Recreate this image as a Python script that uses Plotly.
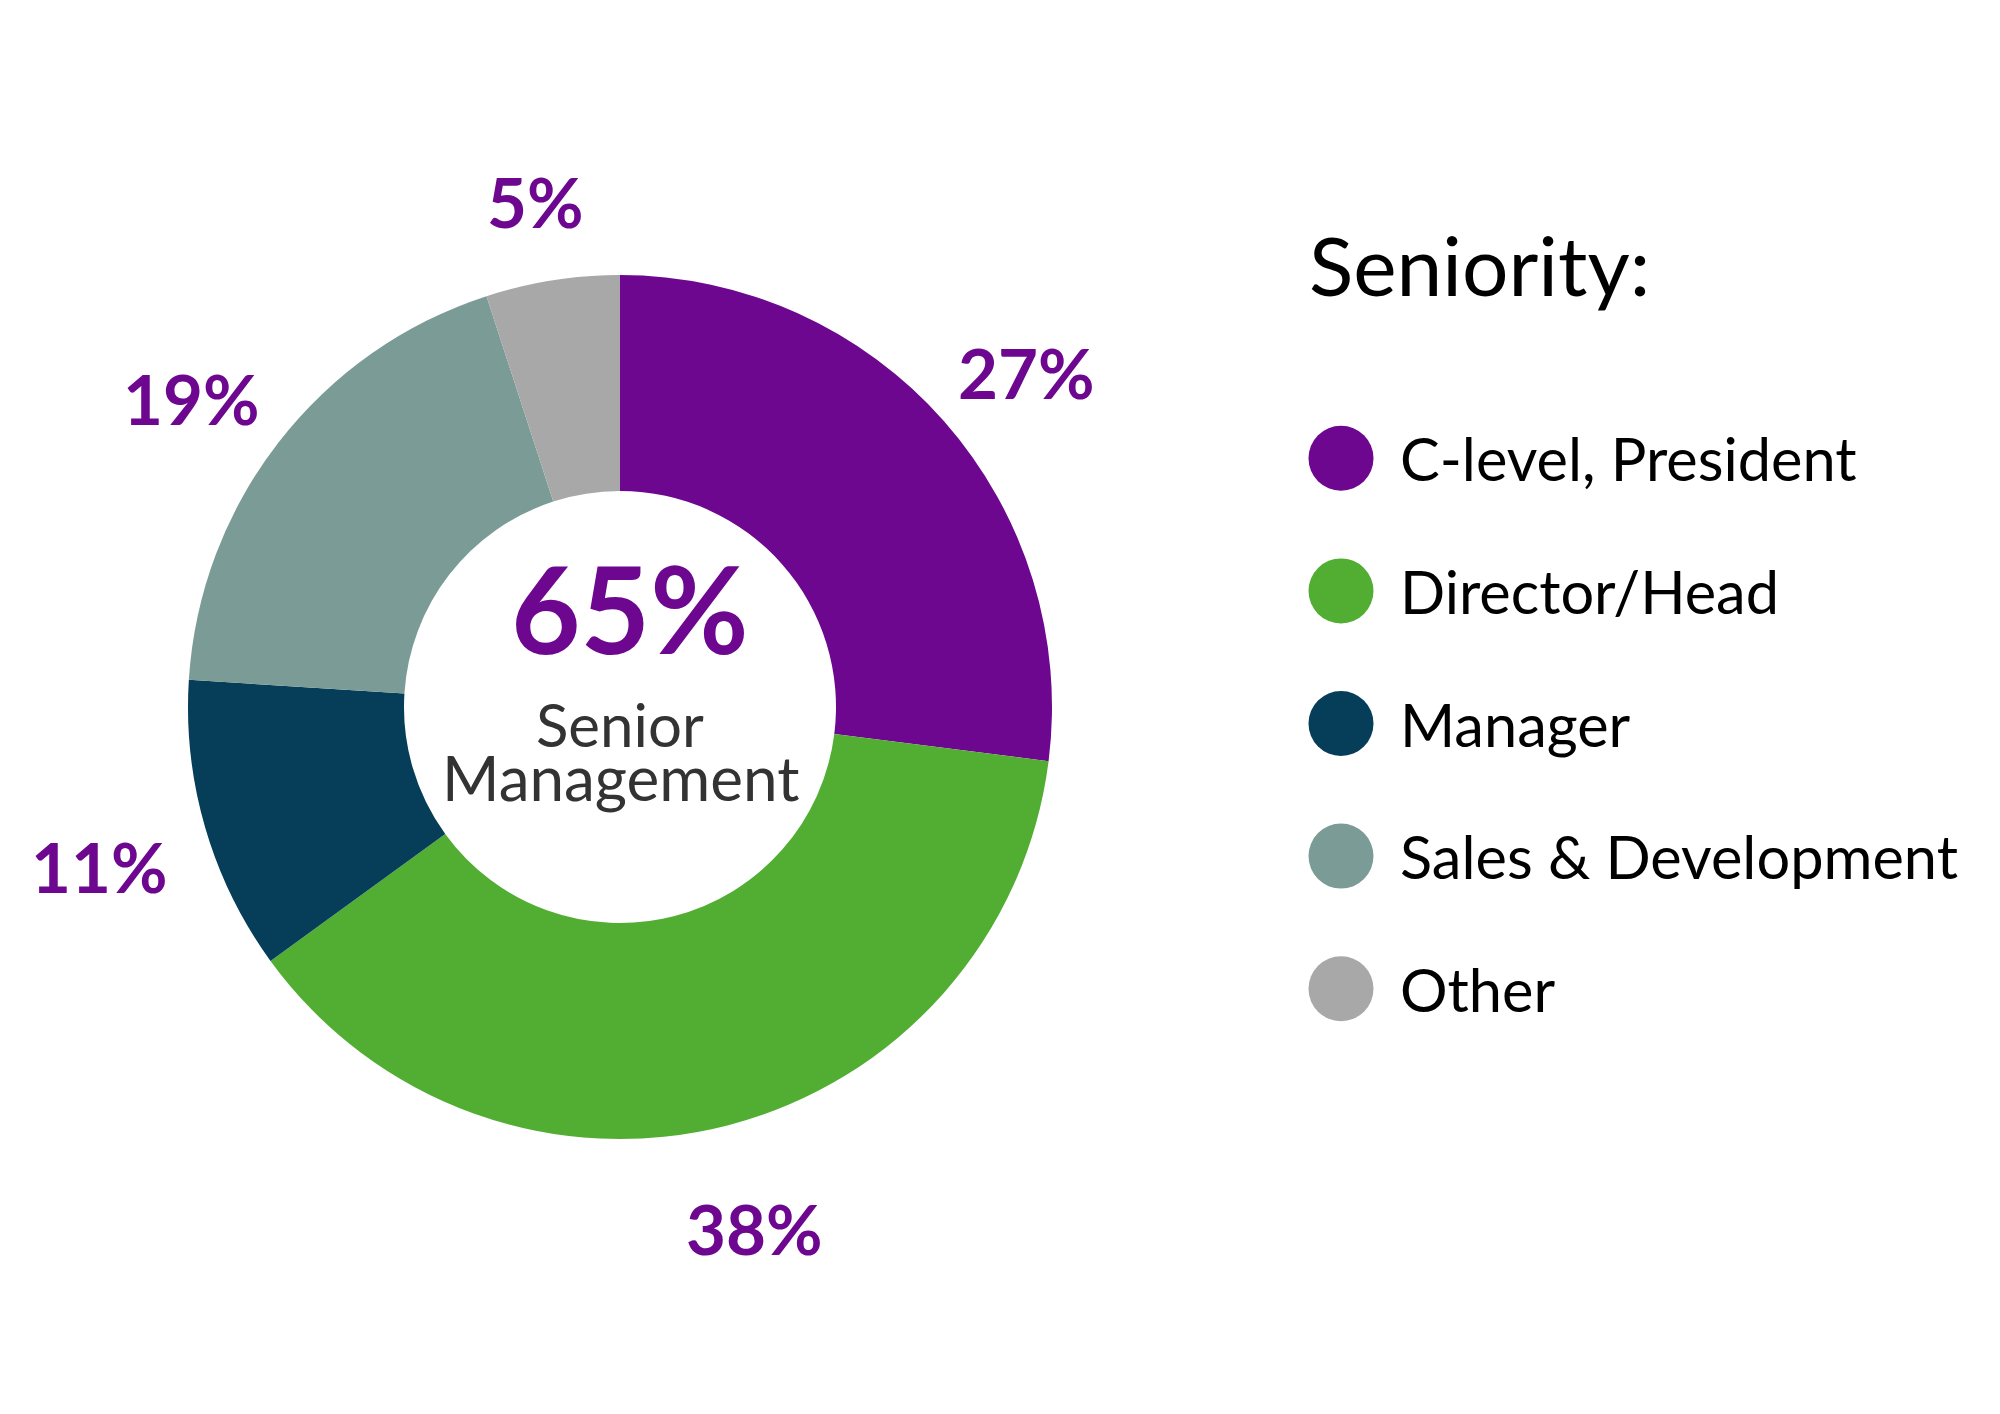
import math
import plotly.graph_objects as go

### Data ###
categories = ["C-level, President", "Director/Head", "Manager", "Sales & Development", "Other"]
shares = [27, 38, 11, 19, 5]
colors = ["#6D078F", "#52AE32", "#063D58", "#7B9C96", "#A8A8A8"]
center_value = "65%"
center_label = ["Senior", "Management"]
legend_title = "Seniority:"

### Layout constants ###
W, H = 2000, 1414
OFF = 8                        # page body margin the figure sits inside
CX, CY, R = 620 - OFF, 707 - OFF, 432   # donut centre / radius in pixels
LABEL_RX, LABEL_RY, LABEL_DY = 542, 525, 13   # where the % labels sit around the ring
LEG_X = 1312 - OFF             # left edge of the legend block
PURPLE = "#6D078F"
FONT = "Lato"


def px(x):
    return x / W


def py(y):
    return 1 - y / H


fig = go.Figure()

fig.add_trace(go.Pie(
    labels=categories,
    values=shares,
    marker=dict(colors=colors, line=dict(width=0)),
    hole=0.5,
    sort=False,
    direction="clockwise",
    rotation=0,
    textinfo="none",
    showlegend=False,
    domain=dict(x=[px(CX - R), px(CX + R)], y=[py(CY + R), py(CY - R)]),
))

# percentage labels around the ring, at the middle angle of each slice
total = sum(shares)
cum = 0
for v in shares:
    mid = (cum + v / 2) / total * 2 * math.pi
    cum += v
    fig.add_annotation(
        x=px(CX + LABEL_RX * math.sin(mid)),
        y=py(CY - LABEL_RY * math.cos(mid) + LABEL_DY),
        xref="paper", yref="paper",
        text=f"<b>{v}%</b>", showarrow=False,
        font=dict(family=FONT, size=69, color=PURPLE),
        xanchor="center", yanchor="middle",
    )

# centre text
fig.add_annotation(x=px(CX + 10), y=py(608 - OFF), xref="paper", yref="paper",
                   text=f"<b>{center_value}</b>", showarrow=False,
                   xanchor="center", yanchor="middle",
                   font=dict(family=FONT, size=120, color=PURPLE))
fig.add_annotation(x=px(CX), y=py(724 - OFF), xref="paper", yref="paper",
                   text=center_label[0], showarrow=False,
                   xanchor="center", yanchor="middle",
                   font=dict(family=FONT, size=60, color="#333333"))
fig.add_annotation(x=px(CX), y=py(777 - OFF), xref="paper", yref="paper",
                   text=center_label[1], showarrow=False,
                   xanchor="center", yanchor="middle",
                   font=dict(family=FONT, size=62, color="#333333"))

# legend drawn as a scatter on its own axes
fig.add_trace(go.Scatter(
    x=[29] * len(categories),
    y=categories,
    mode="markers",
    marker=dict(size=65, color=colors, line=dict(width=0)),
    cliponaxis=False,
    hoverinfo="skip",
    showlegend=False,
    xaxis="x2", yaxis="y2",
))
for cat in categories:
    fig.add_annotation(x=86, y=cat, xref="x2", yref="y2", text=cat,
                       showarrow=False, xanchor="left", yanchor="middle",
                       font=dict(family=FONT, size=59.5, color="#000000"))

fig.add_annotation(x=px(LEG_X - 5), y=py(264 - OFF), xref="paper", yref="paper",
                   text=legend_title, showarrow=False, xanchor="left", yanchor="middle",
                   font=dict(family=FONT, size=82, color="#000000"))

fig.update_layout(
    width=W, height=H,
    margin=dict(l=0, r=0, t=0, b=0),
    paper_bgcolor="white",
    plot_bgcolor="rgba(0,0,0,0)",
    font=dict(family=FONT),
    xaxis2=dict(domain=[px(LEG_X), 1.0], range=[0, W - LEG_X], visible=False,
                fixedrange=True, anchor="y2"),
    yaxis2=dict(domain=[py(1055 - OFF), py(392 - OFF)], type="category",
                categoryorder="array", categoryarray=categories,
                range=[len(categories) - 0.5, -0.5], visible=False, fixedrange=True,
                anchor="x2"),
)

fig.write_html("out.html")
